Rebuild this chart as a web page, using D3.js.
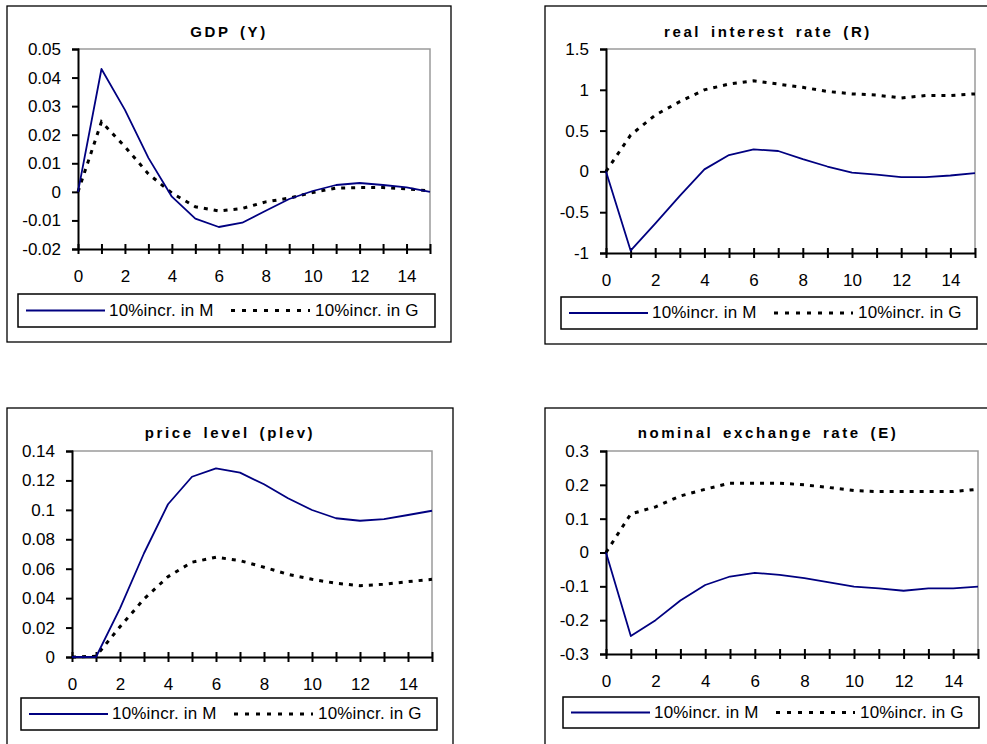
<!DOCTYPE html>
<html>
<head>
<meta charset="utf-8">
<script src="https://cdn.jsdelivr.net/npm/d3@7"></script>
<style>
  body { margin: 0; background: #fff; }
  svg { display: block; font-family: "Liberation Sans", Arial, sans-serif; }
</style>
</head>
<body>
<div id="chart"></div>
<script>
// impulse responses, periods 0..15
const periods = [0, 1, 2, 3, 4, 5, 6, 7, 8, 9, 10, 11, 12, 13, 14, 15];
const seriesNames = ["10%incr. in M", "10%incr. in G"];

const gdpM = [0, 0.043, 0.0287, 0.0119, -0.0017, -0.0094, -0.0123, -0.0108, -0.0066, -0.0025, 0.0003, 0.0024, 0.0031, 0.0024, 0.0016, 0.0];
const gdpG = [0, 0.0245, 0.0158, 0.0063, -0.0004, -0.0052, -0.0067, -0.0058, -0.0035, -0.0022, -0.0002, 0.0013, 0.0015, 0.0015, 0.0011, 0.0003];

const rateM = [0, -0.97, -0.64, -0.30, 0.025, 0.20, 0.27, 0.25, 0.15, 0.06, -0.015, -0.04, -0.07, -0.07, -0.05, -0.02];
const rateG = [0, 0.445, 0.69, 0.855, 1.0, 1.07, 1.11, 1.07, 1.03, 0.98, 0.95, 0.935, 0.90, 0.93, 0.93, 0.95];

const plevM = [0, 0, 0.0331, 0.0705, 0.1038, 0.1225, 0.1282, 0.1253, 0.1174, 0.1079, 0.0999, 0.0943, 0.0926, 0.0937, 0.0965, 0.0994];
const plevG = [0, 0.0005, 0.0206, 0.0394, 0.0546, 0.0644, 0.0678, 0.0655, 0.061, 0.0562, 0.0528, 0.0501, 0.0485, 0.0494, 0.0512, 0.0528];

const exchM = [0, -0.247, -0.20, -0.142, -0.096, -0.071, -0.060, -0.066, -0.076, -0.088, -0.101, -0.106, -0.113, -0.106, -0.106, -0.101];
const exchG = [0, 0.114, 0.135, 0.167, 0.187, 0.205, 0.205, 0.205, 0.20, 0.192, 0.183, 0.18, 0.18, 0.18, 0.18, 0.187];

const xTickLabels = [0, 2, 4, 6, 8, 10, 12, 14];
const gdpTicks = [-0.02, -0.01, 0, 0.01, 0.02, 0.03, 0.04, 0.05];
const rateTicks = [-1, -0.5, 0, 0.5, 1, 1.5];
const plevTicks = [0, 0.02, 0.04, 0.06, 0.08, 0.1, 0.12, 0.14];
const exchTicks = [-0.3, -0.2, -0.1, 0, 0.1, 0.2, 0.3];

const panels = [
  { title: "GDP (Y)", m: gdpM, g: gdpG, ticks: gdpTicks,
    box: [7, 6, 444, 336], titleX: 229, titleY: 33,
    plot: { l: 78, t: 49, r: 430, b: 249 }, legend: [18, 294, 417, 33] },
  { title: "real interest rate (R)", m: rateM, g: rateG, ticks: rateTicks,
    box: [545, 6, 446, 338], titleX: 768, titleY: 33,
    plot: { l: 606, t: 49, r: 975, b: 253 }, legend: [561, 297, 416, 32] },
  { title: "price level (plev)", m: plevM, g: plevG, ticks: plevTicks,
    box: [7, 408, 446, 360], titleX: 230, titleY: 434,
    plot: { l: 72, t: 451, r: 432, b: 657 }, legend: [21, 698, 416, 32] },
  { title: "nominal exchange rate (E)", m: exchM, g: exchG, ticks: exchTicks,
    box: [545, 408, 446, 360], titleX: 768, titleY: 434,
    plot: { l: 606, t: 451, r: 978, b: 654 }, legend: [563, 697, 416, 31] }
];

const width = 987, height = 744;
const svg = d3.select("#chart").append("svg")
  .attr("width", width)
  .attr("height", height);

const navy = "#000080";
const font = "Liberation Sans, Arial, sans-serif";

panels.forEach(p => {
  const g = svg.append("g");

  // panel frame
  g.append("rect")
    .attr("x", p.box[0]).attr("y", p.box[1])
    .attr("width", p.box[2]).attr("height", p.box[3])
    .attr("fill", "#fff").attr("stroke", "#000").attr("stroke-width", 1.3);

  g.append("text")
    .attr("x", p.titleX).attr("y", p.titleY)
    .attr("text-anchor", "middle").attr("dominant-baseline", "middle")
    .style("font-weight", "bold").style("font-size", "15px")
    .style("letter-spacing", "2.6px").style("word-spacing", "3px")
    .text(p.title);

  const x = d3.scaleLinear().domain([0, 15]).range([p.plot.l, p.plot.r]);
  const y = d3.scaleLinear()
    .domain([p.ticks[0], p.ticks[p.ticks.length - 1]])
    .range([p.plot.b, p.plot.t]);

  // gray plot-area border (top/right)
  g.append("path")
    .attr("d", `M${p.plot.l},${p.plot.t}H${p.plot.r}V${p.plot.b}`)
    .attr("fill", "none").attr("stroke", "#9a9a9a").attr("stroke-width", 1.5);

  // y axis
  const yAxis = g.append("g")
    .attr("transform", `translate(${p.plot.l},0)`)
    .call(d3.axisLeft(y).tickValues(p.ticks).tickSize(6).tickPadding(11)
      .tickFormat(d => String(+d.toFixed(3))));
  yAxis.attr("font-family", font);
  yAxis.select(".domain").attr("stroke-width", 2);
  yAxis.selectAll(".tick line").attr("stroke-width", 2).attr("x2", -6).attr("x1", 1);
  yAxis.selectAll("text").style("font-size", "17px").attr("fill", "#000");

  // x axis with crossing ticks
  const xAxis = g.append("g")
    .attr("transform", `translate(0,${p.plot.b})`)
    .call(d3.axisBottom(x).tickValues(periods).tickSize(0).tickSizeOuter(0)
      .tickFormat(d => xTickLabels.includes(d) ? d : ""));
  xAxis.attr("font-family", font);
  xAxis.select(".domain").attr("stroke-width", 2);
  xAxis.selectAll(".tick line").attr("y1", -5).attr("y2", 5).attr("stroke-width", 2);
  xAxis.selectAll("text").style("font-size", "17px").attr("fill", "#000")
    .attr("dy", null).attr("y", 29).attr("dominant-baseline", "middle");

  const line = d3.line().x((d, i) => x(periods[i])).y(d => y(d));

  g.append("path")
    .datum(p.g)
    .attr("d", line)
    .attr("fill", "none").attr("stroke", "#000")
    .attr("stroke-width", 3).attr("stroke-dasharray", "4,6");

  g.append("path")
    .datum(p.m)
    .attr("d", line)
    .attr("fill", "none").attr("stroke", navy)
    .attr("stroke-width", 1.8).attr("stroke-linejoin", "round");

  // legend
  const [lx, ly, lw, lh] = p.legend;
  const cy = ly + lh / 2;
  g.append("rect")
    .attr("x", lx).attr("y", ly).attr("width", lw).attr("height", lh)
    .attr("fill", "#fff").attr("stroke", "#000").attr("stroke-width", 1.5);
  g.append("line")
    .attr("x1", lx + 8).attr("x2", lx + 87).attr("y1", cy).attr("y2", cy)
    .attr("stroke", navy).attr("stroke-width", 1.8);
  g.append("text")
    .attr("x", lx + 91).attr("y", cy + 1).attr("dominant-baseline", "middle")
    .style("font-size", "17px").style("letter-spacing", "0.2px")
    .text(seriesNames[0]);
  g.append("line")
    .attr("x1", lx + 213).attr("x2", lx + 292).attr("y1", cy).attr("y2", cy)
    .attr("stroke", "#000").attr("stroke-width", 3).attr("stroke-dasharray", "4,7");
  g.append("text")
    .attr("x", lx + 297).attr("y", cy + 1).attr("dominant-baseline", "middle")
    .style("font-size", "17px").style("letter-spacing", "0.2px")
    .text(seriesNames[1]);
});
</script>
</body>
</html>
